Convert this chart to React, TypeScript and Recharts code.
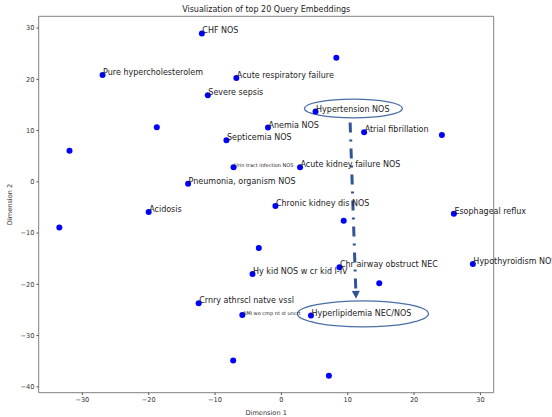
import React from "react";
import {
  ScatterChart,
  Scatter,
  XAxis,
  YAxis,
  ReferenceArea,
  ReferenceLine,
} from "recharts";

// t-SNE style coordinates
const dimension1 = [
  -11.99, 8.28, -26.95, -6.79, -11.09, 5.15, -18.78, -2.02, 12.47, 24.19,
  -8.28, -31.94, -7.21, 2.81, -14.06, -0.9, -20.0, 26.0, 9.39, -33.47,
  -3.4, 8.75, 28.86, -4.35, 14.75, -12.47, -5.89, 4.46, -7.27, 7.16,
];
const dimension2 = [
  28.96, 24.2, 20.84, 20.26, 16.88, 13.7, 10.65, 10.58, 9.68, 9.16,
  8.12, 6.04, 2.86, 2.86, -0.39, -4.74, -5.9, -6.23, -7.6, -8.9,
  -12.92, -16.69, -16.04, -17.99, -19.8, -23.7, -25.97, -26.1, -34.87, -37.86,
];
const labels = [
  "CHF NOS", "", "Pure hypercholesterolem", "Acute respiratory failure", "Severe sepsis",
  "Hypertension NOS", "", "Anemia NOS", "Atrial fibrillation", "",
  "Septicemia NOS", "", "Urin tract infection NOS", "Acute kidney failure NOS", "Pneumonia, organism NOS",
  "Chronic kidney dis NOS", "Acidosis", "Esophageal reflux", "", "",
  "", "Chr airway obstruct NEC", "Hypothyroidism NOS", "Hy kid NOS w cr kid I-IV", "",
  "Crnry athrscl natve vssl", "AMI wo cmp nt st uncrt", "Hyperlipidemia NEC/NOS", "", "",
];

const xTicks = [-30, -20, -10, 0, 10, 20, 30];
const yTicks = [-40, -30, -20, -10, 0, 10, 20, 30];

const X_DOMAIN: [number, number] = [-36.58, 32.0];
const Y_DOMAIN: [number, number] = [-41.15, 32.3];

// hand drawn highlights (data coords)
const highlightTop = { x1: 3.47, x2: 18.24, y1: 12.49, y2: 16.14 };
const highlightBottom = { x1: 2.41, x2: 22.16, y1: -28.3, y2: -23.22 };
const arrowPath = [
  { x: 10.36, y: 11.57 },
  { x: 11.26, y: -22.83 },
];

const SMALL_LABELS = new Set(["Urin tract infection NOS", "AMI wo cmp nt st uncrt"]);

const points = dimension1.map((x, i) => ({ x, y: dimension2[i], label: labels[i] }));
const labeled = points.filter((p) => p.label !== "");

const FONT = "'DejaVu Sans', sans-serif";
const fmt = (v: number) => (v < 0 ? `\u2212${-v}` : `${v}`);

const Ellipse = (props: any) => {
  const { x, y, width, height } = props;
  return (
    <ellipse
      cx={x + width / 2}
      cy={y + height / 2}
      rx={width / 2}
      ry={height / 2}
      fill="none"
      stroke="#4a6ea8"
      strokeWidth={1.3}
    />
  );
};

const Arrow = (props: any) => {
  const { x1, y1, x2, y2 } = props;
  const ang = Math.atan2(y2 - y1, x2 - x1);
  const len = 8;
  const half = 4;
  const bx = x2 - len * Math.cos(ang);
  const by = y2 - len * Math.sin(ang);
  const px = -Math.sin(ang) * half;
  const py = Math.cos(ang) * half;
  return (
    <g>
      <line
        x1={x1}
        y1={y1}
        x2={bx}
        y2={by}
        stroke="#2f5597"
        strokeWidth={3}
        strokeDasharray="10 7 2 7"
      />
      <polygon
        points={`${x2},${y2} ${bx + px},${by + py} ${bx - px},${by - py}`}
        fill="#2f5597"
      />
    </g>
  );
};

export default function App() {
  return (
    <div style={{ position: "absolute", left: 0, top: 0, width: 552, height: 417, background: "#fff" }}>
      <div
        style={{
          position: "absolute",
          left: 38.7,
          width: 455,
          top: 5,
          lineHeight: "10px",
          textAlign: "center",
          fontFamily: FONT,
          fontSize: 8,
          color: "#222",
        }}
      >
        Visualization of top 20 Query Embeddings
      </div>
      <ScatterChart
        width={552}
        height={417}
        margin={{ top: 16.3, right: 58.3, bottom: 0, left: 0 }}
      >
        <XAxis
          type="number"
          dataKey="x"
          domain={X_DOMAIN}
          ticks={xTicks}
          height={24.3}
          tickFormatter={fmt}
          tick={{ fontSize: 6.6, fill: "#333", fontFamily: FONT }}
          tickSize={2.3}
          tickLine={{ stroke: "#555" }}
          axisLine={false}
          label={{
            value: "Dimension 1",
            position: "insideBottom",
            offset: 2,
            style: { fontSize: 6.6, fill: "#333", fontFamily: FONT },
          }}
        />
        <YAxis
          type="number"
          dataKey="y"
          domain={Y_DOMAIN}
          ticks={yTicks}
          width={38.7}
          tickFormatter={fmt}
          tick={{ fontSize: 6.6, fill: "#333", fontFamily: FONT }}
          tickSize={2.3}
          tickLine={{ stroke: "#555" }}
          axisLine={false}
          label={{
            value: "Dimension 2",
            angle: -90,
            position: "insideLeft",
            offset: 10,
            style: { fontSize: 6.6, fill: "#333", fontFamily: FONT, textAnchor: "middle" },
          }}
        />
        <ReferenceArea
          x1={X_DOMAIN[0]}
          x2={X_DOMAIN[1]}
          y1={Y_DOMAIN[0]}
          y2={Y_DOMAIN[1]}
          fill="none"
          stroke="#808080"
          strokeWidth={1}
          fillOpacity={0}
          ifOverflow="visible"
        />
        <Scatter
          data={points}
          isAnimationActive={false}
          shape={(p: any) => <circle cx={p.cx} cy={p.cy} r={3} fill="#0000ff" />}
        />
        <Scatter
          data={labeled}
          isAnimationActive={false}
          shape={(p: any) => (
            <text
              x={p.cx + 0.5}
              y={p.cy}
              fontFamily={FONT}
              fontSize={SMALL_LABELS.has(p.payload.label) ? 5 : 8}
              fill="#222"
            >
              {p.payload.label}
            </text>
          )}
        />
        <ReferenceArea {...highlightTop} shape={Ellipse} ifOverflow="visible" />
        <ReferenceArea {...highlightBottom} shape={Ellipse} ifOverflow="visible" />
        <ReferenceLine segment={arrowPath} shape={Arrow} ifOverflow="visible" />
      </ScatterChart>
    </div>
  );
}
